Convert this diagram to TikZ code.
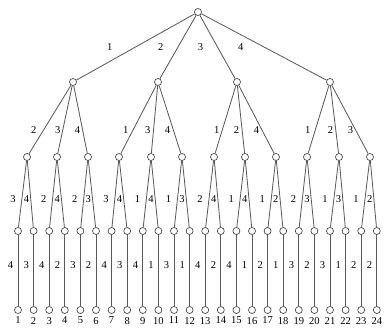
\documentclass[tikz,border=0pt]{standalone}
\usepackage{fontspec}
\setmainfont{Liberation Serif}
\usetikzlibrary{positioning}

\tikzset{
  vert/.style={circle, draw=black!70, line width=0.6pt, minimum size=6pt, inner sep=0pt},
  branch/.style={draw=black!65, line width=0.7pt},
  elabel/.style={font=\fontsize{9}{10}\selectfont, inner sep=1pt},
}

\begin{document}
\begin{tikzpicture}[x=0.03cm, y=-0.03cm]
            \useasboundingbox (0,0) rectangle (388,332);

            % Root and first choice
            \node[vert] (r) at (198,12) {};
            \foreach \x [count=\i] in {73,158,237,330}
                \node[vert] (a\i) at (\x,82) {};

            % Second choice
            \foreach \x [count=\j] in {27,57,88,119,151,182,214,245,276,307,339,370}
                \node[vert] (b\j) at (\x,157) {};

            % Third choice and leaves
            \foreach \k in {1,...,24} {
                \pgfmathsetmacro{\x}{18+15.6*(\k-1)}
                \node[vert] (c\k) at (\x,231) {};
                \node[vert] (d\k) at (\x,310) {};
                \node[elabel, below=1.5pt of d\k] (n\k) {\k};
            }

            % Branches from the root
            \foreach \i/\d in {1/18.4, 2/11.2, 3/10.8, 4/16.3}
                \draw[branch] (r) -- node[elabel, pos=0.5, left=\d pt] {\i} (a\i);

            % Branches to the second level
            \foreach \j/\p/\t/\d in {1/1/2/4.9, 2/1/3/0.8, 3/1/4/0.7, 4/2/1/2.7, 5/2/3/1.4, 6/2/4/1.3,
                                     7/3/1/1.3, 8/3/2/1.1, 9/3/4/1, 10/4/1/2.9, 11/4/2/0.8, 12/4/3/0.7}
                \draw[branch] (a\p) -- node[elabel, pos=0.65, left=\d pt] {\t} (b\j);

            % Branches to the third level
            \foreach \t/\u [count=\j] in {3/4, 2/4, 2/3, 3/4, 1/4, 1/3, 2/4, 1/4, 1/2, 2/3, 1/3, 1/2} {
                \pgfmathtruncatemacro{\l}{2*\j-1}
                \pgfmathtruncatemacro{\m}{2*\j}
                \draw[branch] (b\j) -- node[elabel, pos=0.575, left=4pt] {\t} (c\l);
                \draw[branch] (b\j) -- node[elabel, pos=0.575, left=0pt] {\u} (c\m);
            }

            % Last branches
            \foreach \t [count=\k] in {4,3,4,2,3,2,4,3,4,1,3,1,4,2,4,1,2,1,3,2,3,1,2,2}
                \draw[branch] (c\k) -- node[elabel, pos=0.42, left=2.7pt] {\t} (d\k);
        \end{tikzpicture}
\end{document}
